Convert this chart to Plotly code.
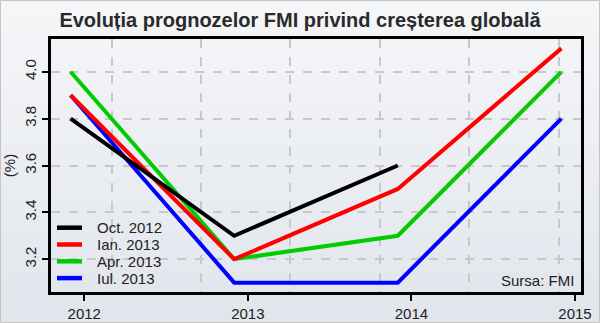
import plotly.graph_objects as go

# ---- data ----
years = [2012, 2013, 2014, 2015]
series_names = ["Oct. 2012", "Ian. 2013", "Apr. 2013", "Iul. 2013"]
oct_2012 = [3.8, 3.3, 3.6, None]
ian_2013 = [3.9, 3.2, 3.5, 4.1]
apr_2013 = [4.0, 3.2, 3.3, 4.0]
iul_2013 = [3.9, 3.1, 3.1, 3.8]
tick_labels = ["2012", "2013", "2014", "2015"]
y_ticks = [3.2, 3.4, 3.6, 3.8, 4.0]

colors = {"Oct. 2012": "#000000", "Ian. 2013": "#ff0000",
          "Apr. 2013": "#00cc00", "Iul. 2013": "#0000ff"}
values = {"Oct. 2012": oct_2012, "Ian. 2013": ian_2013,
          "Apr. 2013": apr_2013, "Iul. 2013": iul_2013}

FONT = "Liberation Sans, Arial, sans-serif"
W, H = 600, 323
ML, MR, MT, MB = 51, 19, 39, 31
PW, PH = W - ML - MR, H - MT - MB

x_range = [2011.88, 2015.12]
y_range = [3.06, 4.14]
x_tickpos = [y + 1/12 for y in years]
x_gridpos = [2012.25, 2012.797, 2013.344, 2013.891, 2014.438, 2014.985]

def px_x(p):
    return (p - ML) / PW

def px_y(p):
    return (H - MB - p) / PH

fig = go.Figure()
# draw in reverse so black ends on top
for name in reversed(series_names):
    fig.add_trace(go.Scatter(
        x=years, y=values[name], name=name, mode="lines",
        line=dict(color=colors[name], width=4),
        xaxis="x", yaxis="y", showlegend=False,
    ))

# invisible trace to activate grid axis
fig.add_trace(go.Scatter(x=[x_range[0]], y=[y_range[0]], xaxis="x2", yaxis="y",
                         mode="markers", marker=dict(opacity=0), showlegend=False,
                         hoverinfo="skip"))

# gradient background bands
shapes = []
n = 40
top = (245, 246, 248)
bot = (225, 229, 236)
fx0, fx1 = -ML / PW, (W - ML) / PW
fy0, fy1 = -MB / PH, (H - MB) / PH
for i in range(n):
    t = i / (n - 1)
    c = tuple(round(top[k] + (bot[k] - top[k]) * t) for k in range(3))
    ya = fy1 - (fy1 - fy0) * i / n
    yb = fy1 - (fy1 - fy0) * (i + 1) / n
    shapes.append(dict(type="rect", xref="paper", yref="paper",
                       x0=fx0, x1=fx1, y0=yb, y1=ya + 0.002,
                       fillcolor="rgb(%d,%d,%d)" % c, line=dict(width=0),
                       layer="below"))
shapes.append(dict(type="rect", xref="paper", yref="paper",
                   x0=fx0 + 0.5 / PW, x1=fx1 - 0.5 / PW,
                   y0=fy0 + 0.5 / PH, y1=fy1 - 0.5 / PH,
                   line=dict(color="#c4c4c4", width=1), layer="above"))

# legend (drawn in the lower-left corner of the plot)
annotations = []
leg_y0, leg_dy = 227.7, 16.8
for i, name in enumerate(series_names):
    yc = leg_y0 + i * leg_dy
    shapes.append(dict(type="line", xref="paper", yref="paper",
                       x0=px_x(57), x1=px_x(82), y0=px_y(yc), y1=px_y(yc),
                       line=dict(color=colors[name], width=4.5), layer="above"))
    annotations.append(dict(text=name, xref="paper", yref="paper",
                            x=px_x(95), y=px_y(yc), xanchor="left",
                            yanchor="middle", showarrow=False,
                            font=dict(size=15, color="#222222")))

annotations.append(dict(text="Sursa: FMI", xref="paper", yref="paper",
                        x=1, y=0, xanchor="right", yanchor="bottom",
                        xshift=-5, yshift=1, showarrow=False,
                        font=dict(size=15, color="#222222")))

fig.update_layout(
    template="none",
    width=W, height=H,
    margin=dict(l=ML, r=MR, t=MT, b=MB, autoexpand=False),
    paper_bgcolor="rgb(235,238,242)",
    plot_bgcolor="rgba(0,0,0,0)",
    font=dict(family=FONT, size=15, color="#222222"),
    showlegend=False,
    title=dict(text="<b>Evoluția prognozelor FMI privind creșterea globală</b>",
               x=0.5, xanchor="center", y=1 - 20 / H, yanchor="middle",
               font=dict(family=FONT, size=20, color="#2a2a2a")),
    xaxis=dict(range=x_range, tickvals=x_tickpos, ticktext=tick_labels,
               showgrid=False, zeroline=False, ticks="outside", ticklen=6,
               tickwidth=2, tickcolor="#000", showline=True, linecolor="#000",
               linewidth=2.5, mirror=True, tickfont=dict(size=15),
               automargin=False),
    xaxis2=dict(range=x_range, overlaying="x", tickvals=x_gridpos,
                showticklabels=False, ticks="", showgrid=True,
                gridcolor="#c8c8c8", gridwidth=2, griddash="dash",
                zeroline=False, showline=False, automargin=False),
    yaxis=dict(range=y_range, tickvals=y_ticks,
               ticktext=["%.1f" % v for v in y_ticks], tickangle=-90,
               showgrid=True, gridcolor="#c8c8c8", gridwidth=2, griddash="dash",
               zeroline=False, ticks="outside", ticklen=6, tickwidth=2,
               tickcolor="#000", showline=True, linecolor="#000", linewidth=2.5,
               mirror=True, tickfont=dict(size=15), automargin=False,
               title=dict(text="(%)", font=dict(size=15), standoff=4)),
    shapes=shapes,
    annotations=annotations,
)

fig.write_html("out.html")
